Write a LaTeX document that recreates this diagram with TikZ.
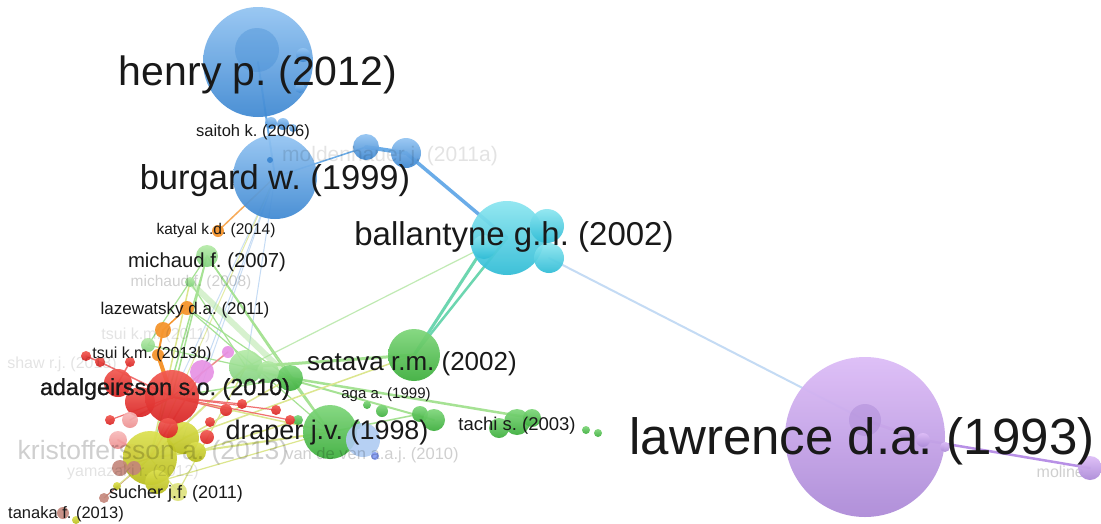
\documentclass[tikz,border=0pt]{standalone}
\usepackage{fontspec}
\setmainfont{Liberation Sans}
\frenchspacing
\pgfdeclarelayer{bg}
\pgfdeclarelayer{edges}
\pgfdeclarelayer{labels}
\pgfsetlayers{bg,edges,main,labels}
\definecolor{bluT}{HTML}{93C4F2}
\definecolor{bluB}{HTML}{3E88D2}
\definecolor{cyaT}{HTML}{8CE6F0}
\definecolor{cyaB}{HTML}{2FBCD6}
\definecolor{purT}{HTML}{DDBDF7}
\definecolor{purB}{HTML}{AD8BD8}
\definecolor{grnT}{HTML}{7ED67A}
\definecolor{grnB}{HTML}{3CAE3C}
\definecolor{lgrT}{HTML}{B4EAA6}
\definecolor{lgrB}{HTML}{7DD07A}
\definecolor{redT}{HTML}{F25A52}
\definecolor{redB}{HTML}{D82424}
\definecolor{pnkT}{HTML}{F8B8B8}
\definecolor{pnkB}{HTML}{EC8C8C}
\definecolor{yelT}{HTML}{DCE050}
\definecolor{yelB}{HTML}{B8BC1C}
\definecolor{lyel}{HTML}{DDE27C}
\definecolor{brn}{HTML}{C4867A}
\definecolor{org}{HTML}{F5952E}
\definecolor{mag}{HTML}{E690E4}
\definecolor{lblu}{HTML}{AFCBF2}
\definecolor{eblue}{HTML}{6AACE8}
\definecolor{elb}{HTML}{B6D2F2}
\definecolor{ecya}{HTML}{6DD6B0}
\definecolor{egrn}{HTML}{A6E294}
\definecolor{eyel}{HTML}{DCE68E}
\definecolor{epur}{HTML}{B890E6}
\definecolor{ered}{HTML}{F07070}
\tikzset{
  bub/.style={circle, inner sep=0pt, minimum size=2*#1},
  bblue/.style={bub=#1, top color=bluT, bottom color=bluB, opacity=.93},
  bcya/.style={bub=#1, top color=cyaT, bottom color=cyaB, opacity=.93},
  bpur/.style={bub=#1, top color=purT, bottom color=purB, opacity=.95},
  bgrn/.style={bub=#1, top color=grnT, bottom color=grnB, opacity=.93},
  blgr/.style={bub=#1, top color=lgrT, bottom color=lgrB, opacity=.9},
  bred/.style={bub=#1, top color=redT, bottom color=redB, opacity=.93},
  bpnk/.style={bub=#1, top color=pnkT, bottom color=pnkB, opacity=.9},
  byel/.style={bub=#1, top color=yelT, bottom color=yelB, opacity=.93},
  blye/.style={bub=#1, fill=lyel, opacity=.9},
  bbrn/.style={bub=#1, fill=brn, opacity=.9},
  borg/.style={bub=#1, fill=org, opacity=.95},
  bmag/.style={bub=#1, fill=mag, opacity=.9},
  blbl/.style={bub=#1, fill=lblu, opacity=.9},
  ed/.style={line width=#1, line cap=round},
  lbl/.style={font=\fontsize{#1}{#1}\selectfont, text=black!90, inner sep=0pt},
  flbl/.style={font=\fontsize{#1}{#1}\selectfont, text=black, text opacity=.19, inner sep=0pt},
  flbl2/.style={font=\fontsize{#1}{#1}\selectfont, text=black, text opacity=.11, inner sep=0pt}
}
\begin{document}
\begin{tikzpicture}[x=1pt,y=-1pt]
\useasboundingbox (0,0) rectangle (1101,523);
\begin{pgfonlayer}{bg}
\fill[white] (0,0) rectangle (1101,523);
\end{pgfonlayer}
\clip (0,0) rectangle (1101,523);

% ---------- bubbles ----------
% blue cluster
\node[bblue=55] (henry) at (258,62) {};
\node[bub=22, fill=bluB, opacity=.35] (henryin) at (257,50) {};
\node[bblue=7] (hb1) at (303,55) {};
\node[bblue=5] (hb2) at (300,88) {};
\node[bblue=6] (hb4) at (271,123) {};
\node[bblue=6] (hb5) at (283,124) {};
\node[bblue=4] (hb6) at (293,128) {};
\node[bblue=42] (burgard) at (275,177) {};
\node[bub=3, fill=bluB] (bb1) at (270,160) {};
\node[bblue=13] (bl1) at (366,147) {};
\node[bblue=15] (bl2) at (406,153) {};
% cyan cluster
\node[bcya=37] (ball) at (507,238) {};
\node[bcya=17] (ball2) at (547,226) {};
\node[bcya=15] (ball3) at (549,258) {};
\node[bcya=12] (ball4) at (484,247) {};
% purple cluster
\node[bpur=80] (law) at (865,437) {};
\node[bub=16, fill=purB, opacity=.5] (lawin) at (865,420) {};
\node[bpur=6] (lp1) at (905,433) {};
\node[bpur=7] (lp2) at (923,440) {};
\node[bpur=5] (lp3) at (945,447) {};
% green cluster
\node[bgrn=26] (satava) at (414,355) {};
\node[bgrn=27] (draper) at (330,432) {};
\node[bgrn=13] (gs2) at (290,378) {};
\node[blgr=17] (gs3) at (246,367) {};
\node[blgr=11] (gs4) at (268,372) {};
\node[blgr=11] (mich7) at (207,256) {};
\node[blgr=5] (mich8) at (190,282) {};
\node[blgr=7] (gts) at (148,345) {};
\node[bgrn=6] (ga1) at (382,411) {};
\node[bgrn=4] (ga2) at (367,405) {};
\node[bgrn=8] (ga3) at (420,414) {};
\node[bgrn=11] (ga4) at (434,420) {};
\node[bgrn=5] (ga5) at (356,425) {};
\node[bgrn=5] (gd2) at (298,420) {};
\node[bgrn=13] (t1) at (517,422) {};
\node[bgrn=10] (t2) at (499,428) {};
\node[bgrn=9] (t3) at (532,418) {};
\node[bgrn=4] (t4) at (586,430) {};
\node[bgrn=4] (t5) at (598,433) {};
\node[blbl=17] (vdv) at (363,440) {};
\node[bub=4, fill=lblu!80!blue] (vd2) at (375,456) {};
% orange
\node[borg=6] (katyal) at (218,231) {};
\node[borg=7] (lazew) at (187,308) {};
\node[borg=8] (or3) at (163,330) {};
\node[borg=6] (or4) at (158,355) {};
% magenta
\node[bmag=12] (mg1) at (202,372) {};
\node[bmag=6] (mg2) at (228,352) {};
% red
\node[bred=14] (r2) at (118,383) {};
\node[bred=15] (r3) at (140,402) {};
\node[bred=5] (r4) at (100,362) {};
\node[bred=5] (r5) at (86,356) {};
\node[bred=5] (r6) at (130,362) {};
\node[bred=5] (r7) at (110,420) {};
\node[bred=6] (r8) at (226,410) {};
\node[bred=5] (r9) at (210,422) {};
\node[bred=5] (r10) at (242,404) {};
\node[bred=7] (r11) at (207,437) {};
\node[bred=5] (r12) at (276,410) {};
\node[bred=5] (r13) at (290,420) {};
% pink
\node[bpnk=8] (p1) at (130,420) {};
\node[bpnk=9] (p2) at (118,440) {};
\node[bpnk=8] (p3) at (132,452) {};
% yellow
\node[byel=27] (kris) at (150,458) {};
\node[byel=16] (y2) at (183,438) {};
\node[byel=10] (y3) at (196,452) {};
\node[byel=12] (y4) at (157,482) {};
\node[blye=9] (sucher) at (178,492) {};
\node[byel=4] (y6) at (117,486) {};
\node[byel=4] (y7) at (76,520) {};
\node[bred=27] (adal) at (172,397) {};
\node[bred=10] (r14) at (168,428) {};
% brown
\node[bbrn=8] (br1) at (120,468) {};
\node[bbrn=7] (br2) at (134,468) {};
\node[bbrn=5] (br3) at (104,498) {};
\node[bbrn=6] (tanaka) at (63,513) {};

% ---------- labels (and the moline bubble, which covers its label) ----------
\begin{pgfonlayer}{labels}
% faint labels
\node[flbl2=21] (L2011a) at (390,156) {moldenhauer j. (2011a)};
\node[flbl=15.5] (Lmich8) at (191,282) {michaud f. (2008)};
\node[flbl2=16] (Ltsui1) at (156,335) {tsui k.m. (2011)};
\node[flbl2=16] (Lshaw) at (62,364) {shaw r.j. (2018)};
\node[flbl=26.5] (Lkris) at (153,453) {kristoffersson a. (2013)};
\node[flbl2=16] (Lyama) at (133,472) {yamazaki r. (2012)};
\node[flbl=16.5] (Lvdv) at (372,455) {van de ven a.a.j. (2010)};
\node[flbl=16, anchor=east] (Lmol) at (1084,472) {moline};
\node[bpur=12] (moline) at (1090,468) {};
% dark labels
\node[lbl=41] (Lhenry) at (258,75) {henry p. (2012)};
\node[lbl=16.5] (Lsaitoh) at (253,132) {saitoh k. (2006)};
\node[lbl=34.5] (Lburg) at (275,181) {burgard w. (1999)};
\node[lbl=15.5] (Lkaty) at (216,230) {katyal k.d. (2014)};
\node[lbl=33] (Lball) at (514,237) {ballantyne g.h. (2002)};
\node[lbl=20.3] (Lmich7) at (207,262) {michaud f. (2007)};
\node[lbl=17] (Llaz) at (185,310) {lazewatsky d.a. (2011)};
\node[lbl=16] (Ltsui2) at (152,354) {tsui k.m. (2013b)};
\node[lbl=26] (Lsat) at (412,364) {satava r.m. (2002)};
\node[lbl=23.3] (Ladal) at (165,389) {\addfontfeature{FakeBold=0.8}adalgeirsson s.o. (2010)};
\node[lbl=15] (Laga) at (386,395) {aga a. (1999)};
\node[lbl=18.5] (Ltachi) at (517,426) {tachi s. (2003)};
\node[lbl=26.9] (Ldrap) at (327,433) {draper j.v. (1998)};
\node[lbl=51] (Llaw) at (862,441) {lawrence d.a. (1993)};
\node[lbl=18] (Lsuch) at (176,494) {sucher j.f. (2011)};
\node[lbl=16.5] (Ltan) at (66,514) {tanaka f. (2013)};
\end{pgfonlayer}

% ---------- connectors ----------
\begin{pgfonlayer}{edges}
% blue
\draw[eblue, ed=4] (bl1.center) -- (bl2.center);
\draw[eblue, ed=3.5] (bl2.center) -- (ball.center);
\draw[eblue, ed=2] (henry.center) -- (burgard.center);
\draw[eblue, ed=1.5] (burgard.center) -- (bl1.center);
\draw[elb, ed=2, opacity=.8] (ball3.center) -- (lawin.center);
\draw[epur, ed=3] (lawin.center) -- (lp2.center);
\draw[epur, ed=2.5] (lp2.center) -- (moline.center);
\draw[org, ed=1.5, opacity=.8] (katyal.center) -- (burgard.center);
\draw[elb, ed=1, opacity=.8] (burgard.center) -- (gs3.center);
\draw[elb, ed=1, opacity=.8] (burgard.center) -- (mg1.center);
\draw[elb, ed=1, opacity=.7] (burgard.center) -- (adal.center);
\draw[elb, ed=1, opacity=.7] (burgard.center) -- (y2.center);
\draw[eyel, ed=1, opacity=.8] (burgard.center) -- (kris.center);
% cyan to green
\draw[ecya, ed=3] (ball4.center) -- (satava.center);
\draw[ecya, ed=2.5] (ball.center) -- (satava.center);
\draw[egrn, ed=1.2, opacity=.7] (ball4.center) -- (gs3.center);
% green mesh
\draw[egrn, ed=3] (gs3.center) -- (satava.center);
\draw[egrn, ed=2.5] (gs2.center) -- (t3.center);
\draw[egrn, ed=2] (gs3.center) -- (ga4.center);
\draw[egrn, ed=1.5] (mich7.center) -- (gs2.center);
\draw[egrn, ed=1.5] (mich7.center) -- (draper.center);
\draw[egrn, ed=1.5] (mich7.center) -- (kris.center);
\draw[egrn, ed=1.5] (mich7.center) -- (adal.center);
\draw[egrn, ed=1.2] (mich8.center) -- (gs3.center);
\draw[egrn, ed=1.2] (lazew.center) -- (draper.center);
\draw[egrn, ed=1.2] (lazew.center) -- (gs2.center);
\draw[egrn, ed=1.2] (gts.center) -- (mich7.center);
\draw[egrn, ed=1.2] (gts.center) -- (gs3.center);
\draw[egrn, ed=6, opacity=.45] (mich8.center) -- (gs2.center);
\draw[egrn, ed=6, opacity=.45] (gs3.center) -- (gs2.center);
\draw[egrn, ed=2] (gs2.center) -- (draper.center);
\draw[egrn, ed=1.5] (adal.center) -- (gs2.center);
\draw[egrn, ed=1.5] (draper.center) -- (ga3.center);
\draw[eyel, ed=2] (kris.center) -- (draper.center);
\draw[eyel, ed=2] (kris.center) -- (gs3.center);
\draw[eyel, ed=1.5] (kris.center) -- (gs2.center);
\draw[eyel, ed=1.5] (y2.center) -- (satava.center);
\draw[eyel, ed=1.5] (kris.center) -- (mich8.center);
\draw[eyel, ed=1.5] (adal.center) -- (draper.center);
\draw[eyel, ed=1.5] (y3.center) -- (gd2.center);
\draw[eyel, ed=1.2] (sucher.center) -- (kris.center);
\draw[eyel, ed=1.2] (sucher.center) -- (gs3.center);
\draw[eyel, ed=1.2] (y4.center) -- (draper.center);
% orange, red, pink
\draw[org, ed=2] (or3.center) -- (or4.center);
\draw[org, ed=4] (or4.center) -- (adal.center);
\draw[org, ed=1.5] (lazew.center) -- (or3.center);
\draw[ered, ed=1.5] (r5.center) -- (r4.center);
\draw[ered, ed=1.5] (r4.center) -- (adal.center);
\draw[ered, ed=1.5] (r6.center) -- (r2.center);
\draw[ered, ed=1.2] (r8.center) -- (adal.center);
\draw[ered, ed=1.2] (r10.center) -- (adal.center);
\draw[ered, ed=1.2] (r12.center) -- (adal.center);
\draw[ered, ed=1.2] (r13.center) -- (adal.center);
\draw[ered, ed=1.2] (r7.center) -- (adal.center);
\draw[pnkB, ed=1.5] (mg2.center) -- (adal.center);
\draw[pnkB, ed=1.5] (mg1.center) -- (kris.center);
\draw[pnkB, ed=2] (p2.center) -- (kris.center);
\draw[pnkB, ed=1.5] (p1.center) -- (adal.center);
\draw[brn, ed=1.5] (br1.center) -- (kris.center);
\draw[brn, ed=1.2] (br3.center) -- (kris.center);
\draw[eyel, ed=1.2] (y6.center) -- (kris.center);
\end{pgfonlayer}
\end{tikzpicture}
\end{document}
